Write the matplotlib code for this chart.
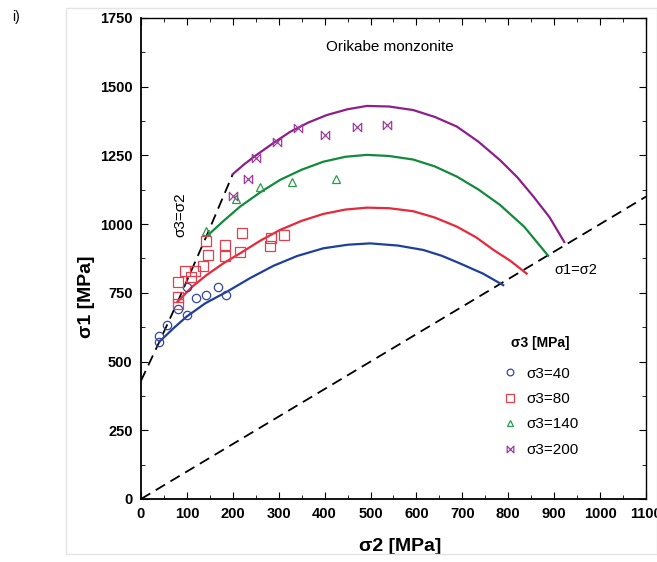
import matplotlib
matplotlib.use("Agg")
import matplotlib.pyplot as plt
import numpy as np
from matplotlib.path import Path
from matplotlib.patches import Rectangle

plt.rcParams['font.family'] = ['Liberation Sans', 'DejaVu Sans']

# fitted envelope curves (sigma2, sigma1)
c40_x = [40, 70, 99, 140, 187, 237, 288, 340, 397, 450, 499, 560, 615, 655, 695, 745, 789]
c40_y = [572, 620, 663, 712, 754, 803, 848, 884, 912, 925, 930, 922, 906, 885, 857, 820, 778]
c80_x = [80, 110, 143, 180, 216, 260, 303, 350, 397, 445, 492, 540, 593, 640, 688, 730, 768, 805, 840]
c80_y = [718, 770, 815, 858, 894, 940, 979, 1012, 1037, 1053, 1060, 1058, 1047, 1024, 991, 952, 906, 866, 820]
c140_x = [142, 180, 216, 260, 303, 350, 397, 445, 492, 540, 593, 640, 688, 735, 782, 835, 887]
c140_y = [954, 1012, 1064, 1116, 1161, 1198, 1227, 1245, 1252, 1248, 1235, 1210, 1173, 1126, 1070, 990, 885]
c200_x = [200, 225, 252, 290, 325, 365, 405, 450, 492, 540, 593, 640, 688, 735, 782, 820, 855, 890, 922]
c200_y = [1182, 1218, 1252, 1297, 1336, 1370, 1397, 1418, 1430, 1428, 1415, 1390, 1355, 1300, 1233, 1170, 1100, 1025, 935]

# sigma3 = sigma2 boundary
s32_x = [0, 40, 80, 142, 200]
s32_y = [430, 572, 718, 954, 1182]

# test data
d40_x = [39, 39, 57, 80, 101, 101, 120, 142, 167, 185]
d40_y = [593, 570, 632, 692, 770, 668, 732, 742, 772, 742]
d80_x = [80, 80, 80, 96, 108, 118, 134, 147, 141, 183, 183, 216, 219, 281, 283, 312]
d80_y = [790, 736, 708, 830, 806, 830, 848, 888, 940, 925, 885, 898, 968, 920, 950, 960]
d140_x = [141, 206, 259, 330, 424]
d140_y = [975, 1092, 1136, 1155, 1165]
d200_x = [201, 234, 251, 297, 343, 400, 471, 535]
d200_y = [1103, 1165, 1240, 1300, 1350, 1325, 1355, 1362]

bowtie = Path([(-1, -1), (-1, 1), (1, -1), (1, 1), (-1, -1)],
              [Path.MOVETO, Path.LINETO, Path.LINETO, Path.LINETO, Path.CLOSEPOLY])

fig = plt.figure(figsize=(6.57, 5.62), dpi=100)
fig.patches.append(Rectangle((0.1, 0.015), 0.9, 0.97, transform=fig.transFigure,
                             fill=False, edgecolor='#e4e4e4', linewidth=1))
fig.text(0.018, 0.962, 'i)', fontsize=10)
ax = fig.add_axes([0.2146, 0.1121, 0.7686, 0.8559])

ax.plot([0, 1100], [0, 1100], color='black', lw=1.3, dashes=(6, 3.5))
ax.plot(s32_x, s32_y, color='black', lw=1.3, dashes=(6, 3.5))

ax.plot(c40_x, c40_y, color='#1f3f9a', lw=1.6)
ax.plot(c80_x, c80_y, color='#e8283a', lw=1.6)
ax.plot(c140_x, c140_y, color='#128a3c', lw=1.6)
ax.plot(c200_x, c200_y, color='#8c1f8c', lw=1.6)

ms = 6
ax.plot(d40_x, d40_y, 'o', mfc='none', mec='#34479c', mew=0.9, ms=ms, label='σ3=40')
ax.plot(d80_x, d80_y, 's', mfc='none', mec='#e0404e', mew=0.9, ms=ms + 1, label='σ3=80')
ax.plot(d140_x, d140_y, '^', mfc='none', mec='#2a9a4a', mew=0.9, ms=ms, label='σ3=140')
ax.plot(d200_x, d200_y, marker=bowtie, ls='none', mfc='none', mec='#a03ca0', mew=0.9,
        ms=ms, label='σ3=200')

ax.set_xlim(0, 1100)
ax.set_ylim(0, 1750)
ax.set_xticks(np.arange(0, 1101, 100))
ax.set_yticks(np.arange(0, 1751, 250))
ax.set_xticks(np.arange(0, 1101, 50), minor=True)
ax.set_yticks(np.arange(0, 1751, 125), minor=True)
ax.tick_params(which='both', direction='in', top=True, right=True)
ax.tick_params(which='major', length=5, labelsize=10.5, pad=6)
ax.tick_params(which='minor', length=3)
for lab in ax.get_xticklabels() + ax.get_yticklabels():
    lab.set_fontweight('bold')
for s in ax.spines.values():
    s.set_linewidth(1.0)
ax.spines['left'].set_linewidth(1.3)
ax.spines['bottom'].set_linewidth(1.3)

ax.set_xlabel('σ2 [MPa]', fontsize=14, fontweight='bold')
ax.set_ylabel('σ1 [MPa]', fontsize=14, fontweight='bold')
ax.xaxis.set_label_coords(0.513, -0.082)
ax.yaxis.set_label_coords(-0.092, 0.42)

ax.text(542, 1644, 'Orikabe monzonite', fontsize=11, ha='center', va='center')
ax.text(85, 1035, 'σ3=σ2', fontsize=11, rotation=90, ha='center', va='center')
ax.text(900, 833, 'σ1=σ2', fontsize=10.5, ha='left', va='center')

leg = ax.legend(loc='upper left', bbox_to_anchor=(0.70, 0.355), frameon=False,
                fontsize=11, title='σ3 [MPa]', handlelength=1.0, handletextpad=0.6,
                labelspacing=0.75, borderpad=0, markerscale=0.8)
leg.get_title().set_fontweight('bold')
leg.get_title().set_fontsize(10)
leg._legend_box.sep = 12

fig.savefig('out.png', dpi=100)
